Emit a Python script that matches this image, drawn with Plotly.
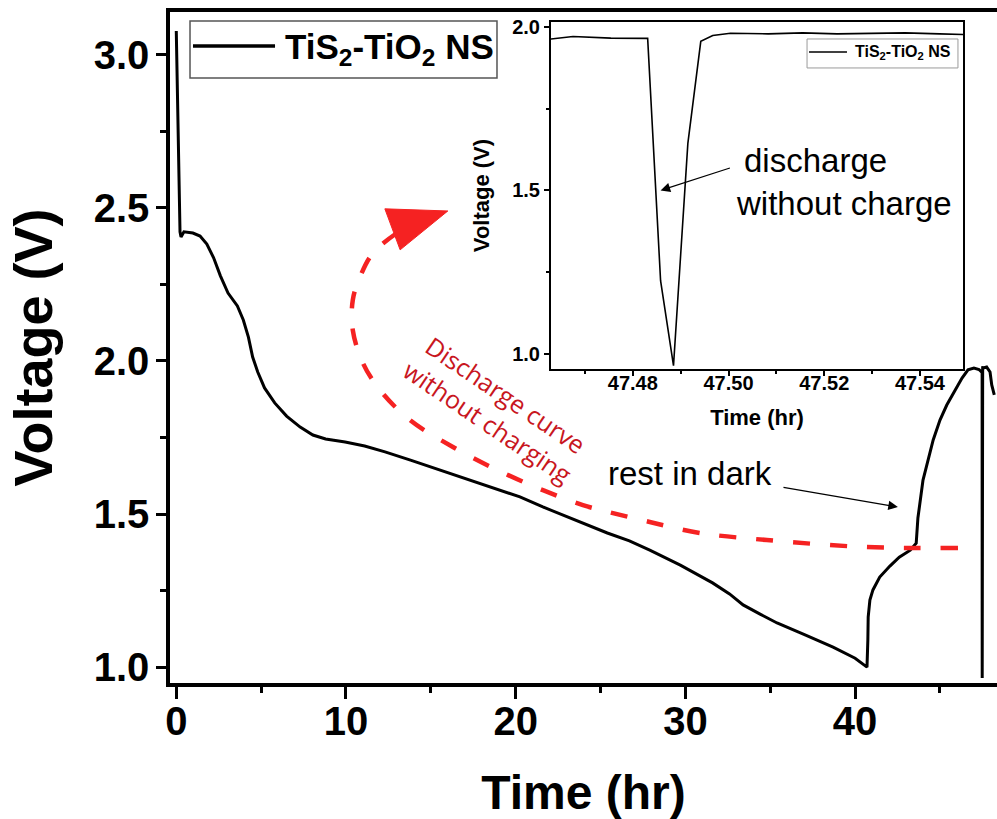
import plotly.graph_objects as go

# Voltage vs. time for the TiS2-TiO2 NS cell
time_hr = [
    0.0, 0.1, 0.22, 0.28, 0.45, 0.98, 1.4, 1.8, 2.2, 2.6, 3.05, 3.6, 3.95, 4.25, 4.5,
    4.8, 5.2, 5.8, 6.5, 7.3, 8.05, 8.8, 9.95, 11.1, 12.3, 13.8, 15.5, 17.3, 19.1,
    20.25, 21.6, 23.5, 25.4, 26.7, 27.9, 29.7, 31.6, 32.6, 33.4, 34.4, 35.4, 37.05,
    38.7, 40.0, 40.7, 40.75, 40.77, 40.87, 41.05, 41.45, 42.05, 42.6, 43.25, 43.6,
    43.65, 43.7, 44.0, 44.3, 44.6, 45.0, 45.4, 45.9, 46.3, 46.65, 47.0, 47.3,
    47.4629, 47.4675, 47.4754, 47.4831, 47.4858, 47.4885, 47.4915, 47.4942,
    47.4967, 47.5004, 47.5083, 47.5155, 47.5227, 47.5298, 47.5369, 47.5441,
    47.549, 47.75, 47.95, 48.05, 48.2,
]
voltage_v = [
    3.078, 2.788, 2.422, 2.405, 2.422, 2.418, 2.408, 2.382, 2.337, 2.278, 2.222,
    2.18, 2.134, 2.078, 2.013, 1.964, 1.912, 1.863, 1.82, 1.784, 1.758, 1.745,
    1.735, 1.722, 1.703, 1.676, 1.644, 1.611, 1.578, 1.556, 1.523, 1.48, 1.438,
    1.412, 1.382, 1.333, 1.275, 1.239, 1.203, 1.173, 1.144, 1.105, 1.065, 1.029,
    1.0, 1.088, 1.163, 1.219, 1.252, 1.294, 1.33, 1.359, 1.382, 1.405, 1.448,
    1.487, 1.611, 1.676, 1.742, 1.807, 1.856, 1.905, 1.944, 1.971, 1.977, 1.972,
    1.963, 1.971, 1.966, 1.965, 1.224, 0.964, 1.644, 1.956, 1.974, 1.981, 1.979,
    1.982, 1.979, 1.981, 1.982, 1.979, 1.977, 1.98, 1.964, 1.922, 1.889,
]

# Hand-drawn guide: discharge without charging (red dashed sweep)
guide_t = [46.06, 40.69, 34.8, 30.85, 27.9, 25.73, 23.96, 21.6, 18.9, 16.3, 13.77,
           12.0, 11.0, 10.4, 10.4, 10.83, 11.59, 13.0]
guide_v = [1.389, 1.392, 1.415, 1.438, 1.474, 1.503, 1.529, 1.578, 1.644, 1.719,
           1.807, 1.905, 1.993, 2.101, 2.199, 2.275, 2.353, 2.418]
guide_head_t = [12.29, 16.0, 13.19]
guide_head_v = [2.497, 2.490, 2.363]

x_ticks_main = [0, 10, 20, 30, 40]
y_ticks_main = [1.0, 1.5, 2.0, 2.5, 3.0]
x_ticks_inset = [47.48, 47.50, 47.52, 47.54]
y_ticks_inset = [1.0, 1.5, 2.0]

series_name = "TiS<sub>2</sub>-TiO<sub>2</sub> NS"
FONT = "Liberation Sans, Arial, sans-serif"
RED_LINE = "#f52222"
RED_TEXT = "#c8161e"

fig = go.Figure()

fig.add_trace(go.Scatter(
    x=time_hr, y=voltage_v, mode="lines", name="TiS2-TiO2 NS",
    line=dict(color="black", width=3), xaxis="x", yaxis="y", showlegend=False,
))
fig.add_trace(go.Scatter(
    x=guide_t, y=guide_v, mode="lines", line=dict(color=RED_LINE, width=4.5,
    dash="17px,20px", shape="spline", smoothing=1.0), xaxis="x", yaxis="y",
    showlegend=False, hoverinfo="skip",
))
fig.add_trace(go.Scatter(
    x=guide_head_t + guide_head_t[:1], y=guide_head_v + guide_head_v[:1],
    mode="lines", fill="toself", fillcolor=RED_LINE, line=dict(color=RED_LINE, width=1),
    xaxis="x", yaxis="y", showlegend=False, hoverinfo="skip",
))
# Inset: zoom on the short discharge spike
fig.add_trace(go.Scatter(
    x=time_hr, y=voltage_v, mode="lines", name="TiS2-TiO2 NS (inset)",
    line=dict(color="black", width=1.6), xaxis="x2", yaxis="y2", showlegend=False,
))

main_tick_font = dict(family=FONT, size=40, color="black", weight="bold")
inset_tick_font = dict(family=FONT, size=20, color="black", weight="bold")

fig.update_layout(
    width=997, height=819,
    margin=dict(l=170, r=0, t=12, b=136),
    paper_bgcolor="white", plot_bgcolor="white",
    showlegend=False,
    xaxis=dict(
        range=[-0.37, 48.36], tickvals=x_ticks_main, ticktext=[str(v) for v in x_ticks_main],
        showline=True, linecolor="black", linewidth=3.5, mirror=True, automargin=False,
        ticks="outside", ticklen=12, tickwidth=3, tickcolor="black",
        minor=dict(dtick=5, tick0=0, ticks="outside", ticklen=6, tickwidth=3, tickcolor="black"),
        showgrid=False, zeroline=False, tickfont=main_tick_font, ticklabelstandoff=-12,
        title=dict(text="Time (hr)", font=dict(family=FONT, size=48, color="black", weight="bold"),
                   standoff=42),
    ),
    yaxis=dict(
        range=[0.948, 3.14], tickvals=y_ticks_main, ticktext=[f"{v:.1f}" for v in y_ticks_main],
        showline=True, linecolor="black", linewidth=3.5, mirror=False, automargin=False,
        ticks="outside", ticklen=10, tickwidth=3, tickcolor="black",
        minor=dict(dtick=0.25, tick0=1.0, ticks="outside", ticklen=6, tickwidth=3, tickcolor="black"),
        showgrid=False, zeroline=False, tickfont=main_tick_font, ticklabelstandoff=-1,
        title=dict(text="Voltage (V)", font=dict(family=FONT, size=54, color="black", weight="bold"),
                   standoff=25),
    ),
    xaxis2=dict(
        domain=[0.4607, 0.9589], anchor="y2", automargin=False,
        range=[47.4629, 47.549], tickvals=x_ticks_inset,
        ticktext=[f"{v:.2f}" for v in x_ticks_inset],
        showline=True, linecolor="black", linewidth=2, mirror=True,
        ticks="outside", ticklen=5, tickwidth=1.5, tickcolor="black",
        minor=dict(dtick=0.01, tick0=47.47, ticks="outside", ticklen=3, tickwidth=1.5, tickcolor="black"),
        showgrid=False, zeroline=False, tickfont=inset_tick_font, ticklabelstandoff=-10,
        title=dict(text="Time (hr)", font=dict(family=FONT, size=22, color="black", weight="bold"),
                   standoff=17),
    ),
    yaxis2=dict(
        domain=[0.468, 0.985], anchor="x2", automargin=False,
        range=[0.954, 2.015], tickvals=y_ticks_inset, ticktext=[f"{v:.1f}" for v in y_ticks_inset],
        showline=True, linecolor="black", linewidth=2, mirror=True,
        ticks="outside", ticklen=5, tickwidth=1.5, tickcolor="black",
        minor=dict(dtick=0.25, tick0=1.0, ticks="outside", ticklen=3, tickwidth=1.5, tickcolor="black"),
        showgrid=False, zeroline=False, tickfont=inset_tick_font,
        title=dict(text="Voltage (V)", font=dict(family=FONT, size=22, color="black", weight="bold"),
                   standoff=16),
    ),
)

shapes = [
    # main legend box and line sample
    dict(type="rect", xref="paper", yref="paper", x0=0.0242, x1=0.3954, y0=0.9016, y1=0.9866,
         line=dict(color="#555555", width=1.5), fillcolor="white", layer="above"),
    dict(type="line", xref="paper", yref="paper", x0=0.0278, x1=0.127, y0=0.9493, y1=0.9493,
         line=dict(color="black", width=3.5)),
    # inset legend box and line sample
    dict(type="rect", xref="paper", yref="paper", x0=0.7703, x1=0.9528, y0=0.9166, y1=0.9598,
         line=dict(color="#9a9a9a", width=1), fillcolor="white", layer="above"),
    dict(type="line", xref="paper", yref="paper", x0=0.7727, x1=0.8186, y0=0.9404, y1=0.9404,
         line=dict(color="black", width=1.5)),
]
fig.update_layout(shapes=shapes)

annotations = [
    dict(xref="paper", yref="paper", x=0.1366, y=0.9456, xanchor="left", yanchor="middle",
         text=f"<b>{series_name}</b>", showarrow=False,
         font=dict(family=FONT, size=35, color="black")),
    dict(xref="paper", yref="paper", x=0.8259, y=0.9389, xanchor="left", yanchor="middle",
         text=f"<b>{series_name}</b>", showarrow=False,
         font=dict(family=FONT, size=16, color="black")),
    # red guide label
    dict(xref="x", yref="y", x=18.9, y=1.846, text="Discharge curve<br>without charging",
         showarrow=False, textangle=34, font=dict(family="Open Sans, Lato, sans-serif",
         size=25, color=RED_TEXT)),
    # rest in dark
    dict(xref="x", yref="y", x=30.27, y=1.634, text="rest in dark", showarrow=False,
         font=dict(family=FONT, size=33, color="black")),
    dict(xref="x", yref="y", x=42.52, y=1.523, ax=35.69, ay=1.588, axref="x", ayref="y",
         text="", showarrow=True, arrowhead=2, arrowsize=1.6, arrowwidth=1.2,
         arrowcolor="black"),
    # inset label and arrow
    dict(xref="x2", yref="y2", x=47.5182, y=1.5914, text="discharge", showarrow=False,
         font=dict(family=FONT, size=33, color="black")),
    dict(xref="x2", yref="y2", x=47.5242, y=1.460, text="without charge", showarrow=False,
         font=dict(family=FONT, size=33, color="black")),
    dict(xref="x2", yref="y2", x=47.4858, y=1.500, ax=47.5006, ay=1.570, axref="x2", ayref="y2",
         text="", showarrow=True, arrowhead=2, arrowsize=1.6, arrowwidth=1.2,
         arrowcolor="black"),
]
fig.update_layout(annotations=annotations)

fig.write_html("out.html")
